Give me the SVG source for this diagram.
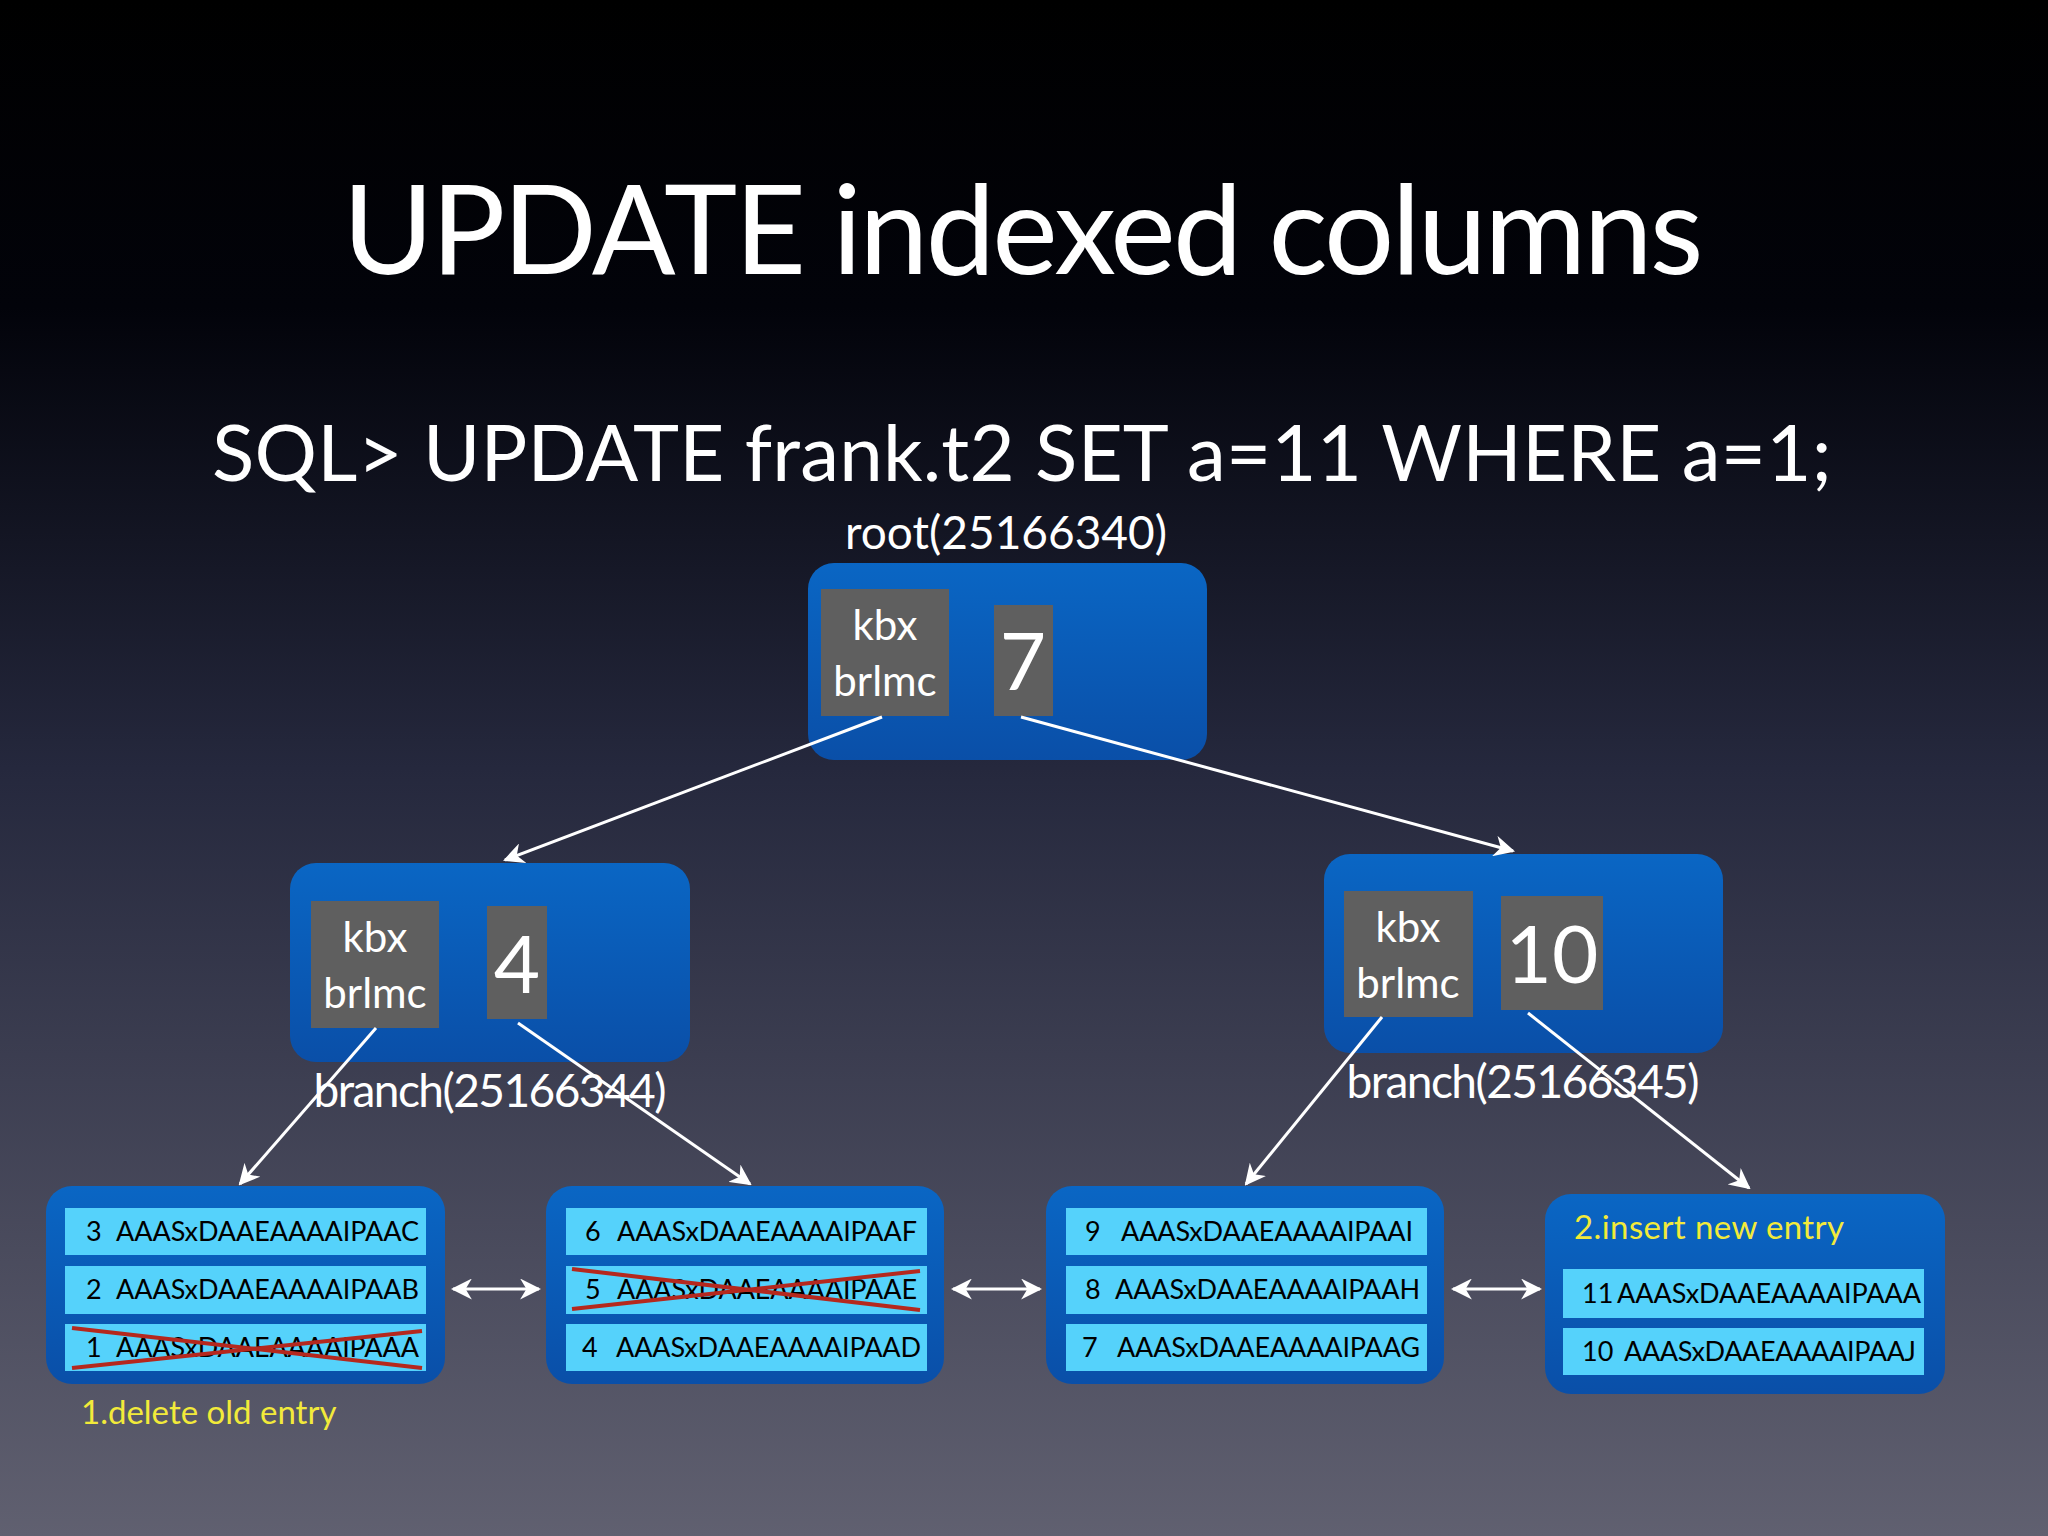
<svg xmlns="http://www.w3.org/2000/svg" width="2048" height="1536" viewBox="0 0 2048 1536">
<defs>
<linearGradient id="bg" x1="0" y1="0" x2="0" y2="1"><stop offset="0" stop-color="#000"/><stop offset="0.2" stop-color="#02030a"/><stop offset="0.5" stop-color="#25283d"/><stop offset="1" stop-color="#606070"/></linearGradient>
<linearGradient id="box" x1="0" y1="0" x2="0" y2="1"><stop offset="0" stop-color="#0a66c4"/><stop offset="1" stop-color="#0a4fa8"/></linearGradient>
<marker id="ah" viewBox="0 0 10 10" refX="9" refY="5" markerWidth="7" markerHeight="7" orient="auto-start-reverse"><path d="M0,0 L10,5 L0,10 L3,5 z" fill="#fff"/></marker>
</defs>
<style>
text{font-family:Lato,"Open Sans","DejaVu Sans",sans-serif;fill:#fff}
.node{fill:url(#box)}
.key{fill:#5f5f5f}
.row{fill:#55d2fb}
.rt{fill:#000;font-size:27px}
.kt{font-size:42px;text-anchor:middle}
.num{font-size:80px;text-anchor:middle}
.lbl{font-size:46px;text-anchor:middle}
.cn line{stroke:#fff;stroke-width:3;marker-end:url(#ah)}
.cross{stroke:#b5281e;stroke-width:4}
.yl{fill:#f2ea3a;font-size:33px}
</style>
<rect width="2048" height="1536" fill="url(#bg)"/>
<text x="1023" y="274" font-size="124" text-anchor="middle" textLength="1361">UPDATE indexed columns</text>
<text x="1022" y="481" font-size="78" text-anchor="middle" textLength="1620">SQL&gt; UPDATE frank.t2 SET a=11 WHERE a=1;</text>
<g id="root">
<text class="lbl" x="1006" y="549">root(25166340)</text>
<rect class="node" x="808" y="563" width="399" height="197" rx="26"/>
<rect class="key" x="821" y="589" width="128" height="127"/>
<text class="kt" x="885" y="640">kbx</text><text class="kt" x="885" y="696">brlmc</text>
<rect class="key" x="994" y="605" width="59" height="111"/>
<text class="num" x="1023" y="690">7</text>
</g>
<g id="branchL">
<rect class="node" x="290" y="863" width="400" height="199" rx="26"/>
<rect class="key" x="311" y="901" width="128" height="127"/>
<text class="kt" x="375" y="952">kbx</text><text class="kt" x="375" y="1008">brlmc</text>
<rect class="key" x="487" y="906" width="60" height="113"/>
<text class="num" x="517" y="993">4</text>
<text class="lbl" x="490" y="1107" textLength="353">branch(25166344)</text>
</g>
<g id="branchR">
<rect class="node" x="1324" y="854" width="399" height="199" rx="26"/>
<rect class="key" x="1344" y="891" width="129" height="126"/>
<text class="kt" x="1408" y="942">kbx</text><text class="kt" x="1408" y="998">brlmc</text>
<rect class="key" x="1501" y="896" width="102" height="114"/>
<text class="num" x="1552" y="983">10</text>
<text class="lbl" x="1523" y="1098" textLength="353">branch(25166345)</text>
</g>
<g id="leaf1">
<rect class="node" x="46" y="1186" width="399" height="198" rx="26"/>
<rect class="row" x="65" y="1208" width="361" height="47"/><text class="rt" x="86" y="1241">3</text><text class="rt" x="116" y="1241" textLength="303">AAASxDAAEAAAAIPAAC</text>
<rect class="row" x="65" y="1266" width="361" height="48"/><text class="rt" x="86" y="1299">2</text><text class="rt" x="116" y="1299" textLength="303">AAASxDAAEAAAAIPAAB</text>
<rect class="row" x="65" y="1324" width="361" height="47"/><text class="rt" x="86" y="1357">1</text><text class="rt" x="116" y="1357" textLength="303">AAASxDAAEAAAAIPAAA</text>
<line class="cross" x1="72" y1="1328" x2="422" y2="1368"/><line class="cross" x1="72" y1="1368" x2="422" y2="1331"/>
<text class="yl" x="81" y="1424">1.delete old entry</text>
</g>
<g id="leaf2">
<rect class="node" x="546" y="1186" width="398" height="198" rx="26"/>
<rect class="row" x="566" y="1208" width="361" height="47"/><text class="rt" x="585" y="1241">6</text><text class="rt" x="617" y="1241" textLength="300">AAASxDAAEAAAAIPAAF</text>
<rect class="row" x="566" y="1266" width="361" height="48"/><text class="rt" x="585" y="1299">5</text><text class="rt" x="617" y="1299" textLength="300">AAASxDAAEAAAAIPAAE</text>
<line class="cross" x1="572" y1="1269" x2="920" y2="1310"/><line class="cross" x1="572" y1="1309" x2="920" y2="1271"/>
<rect class="row" x="566" y="1324" width="361" height="47"/><text class="rt" x="582" y="1357">4</text><text class="rt" x="616" y="1357" textLength="305">AAASxDAAEAAAAIPAAD</text>
</g>
<g id="leaf3">
<rect class="node" x="1046" y="1186" width="398" height="198" rx="26"/>
<rect class="row" x="1066" y="1208" width="361" height="47"/><text class="rt" x="1085" y="1241">9</text><text class="rt" x="1121" y="1241" textLength="292">AAASxDAAEAAAAIPAAI</text>
<rect class="row" x="1066" y="1266" width="361" height="48"/><text class="rt" x="1085" y="1299">8</text><text class="rt" x="1115" y="1299" textLength="305">AAASxDAAEAAAAIPAAH</text>
<rect class="row" x="1066" y="1324" width="361" height="47"/><text class="rt" x="1082" y="1357">7</text><text class="rt" x="1117" y="1357" textLength="303">AAASxDAAEAAAAIPAAG</text>
</g>
<g id="leaf4">
<rect class="node" x="1545" y="1194" width="400" height="200" rx="26"/>
<text class="yl" x="1574" y="1239" textLength="270">2.insert new entry</text>
<rect class="row" x="1563" y="1269" width="361" height="49"/><text class="rt" x="1582" y="1303">11</text><text class="rt" x="1617" y="1303" textLength="304">AAASxDAAEAAAAIPAAA</text>
<rect class="row" x="1563" y="1328" width="361" height="47"/><text class="rt" x="1582" y="1361">10</text><text class="rt" x="1624" y="1361" textLength="292">AAASxDAAEAAAAIPAAJ</text>
</g>
<g id="connectors" class="cn">
<line x1="882" y1="717" x2="505" y2="860"/>
<line x1="1021" y1="717" x2="1513" y2="851"/>
<line x1="376" y1="1028" x2="240" y2="1184"/>
<line x1="518" y1="1023" x2="750" y2="1184"/>
<line x1="1382" y1="1017" x2="1246" y2="1184"/>
<line x1="1528" y1="1013" x2="1749" y2="1188"/>
<line x1="453" y1="1289" x2="539" y2="1289" marker-start="url(#ah)"/>
<line x1="953" y1="1289" x2="1040" y2="1289" marker-start="url(#ah)"/>
<line x1="1453" y1="1289" x2="1540" y2="1289" marker-start="url(#ah)"/>
</g>
</svg>
